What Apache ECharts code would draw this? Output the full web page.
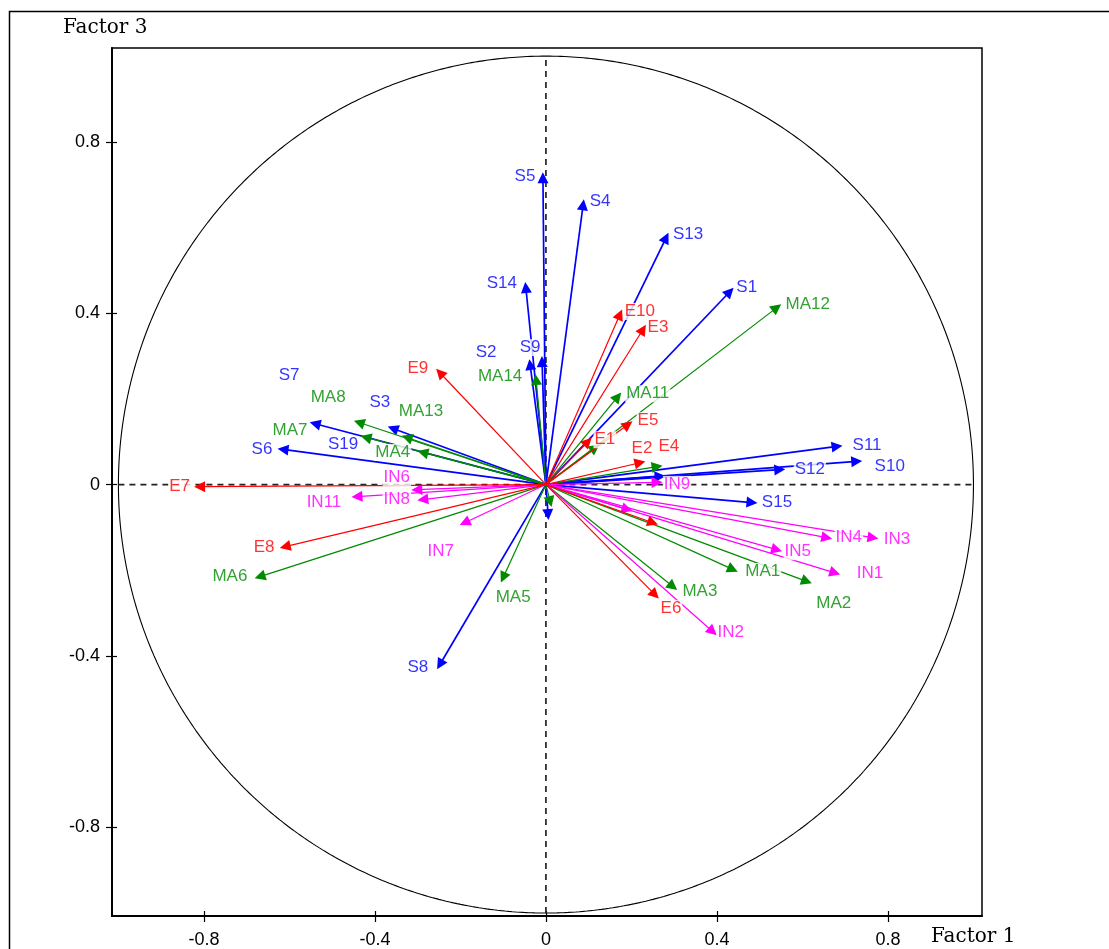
<!DOCTYPE html>
<html>
<head>
<meta charset="utf-8">
<script src="https://cdn.jsdelivr.net/npm/echarts@6/dist/echarts.min.js"></script>
<style>
html,body{margin:0;padding:0;background:#fff;}
#main{width:1109px;height:949px;}
</style>
</head>
<body>
<div id="main"></div>
<script>
// ---- data ----
const tickValues = [-0.8, -0.4, 0, 0.4, 0.8];
const xTitle = 'Factor 1';
const yTitle = 'Factor 3';

const sNames = ['S1','S2','S3','S4','S5','S6','S7','S8','S9','S10','S11','S12','S13','S14','S15','S19',''];
const sX = [0.43,-0.037,-0.358,0.087,-0.007,-0.615,-0.54,-0.248,-0.009,0.727,0.681,0.547,0.281,-0.047,0.482,0.005,0.267];
const sY = [0.45,0.28,0.131,0.653,0.716,0.082,0.142,-0.42,0.287,0.054,0.089,0.035,0.576,0.46,-0.042,-0.07,0.019];

const eNames = ['E1','E2','E3','E4','E5','E6','E7','E8','E9','E10'];
const eX = [0.098,0.22,0.227,0.25,0.192,0.255,-0.81,-0.61,-0.248,0.173];
const eY = [0.1,0.051,0.362,-0.089,0.14,-0.257,-0.005,-0.145,0.261,0.397];

const maNames = ['MA1','MA2','MA3','MA4','MA5','MA6','MA7','MA8','MA11','MA12','MA13','MA14','','',''];
const maX = [0.437,0.61,0.297,-0.288,-0.1,-0.669,-0.421,-0.437,0.168,0.54,-0.325,-0.023,0.115,0.26,0.01];
const maY = [-0.198,-0.226,-0.238,0.075,-0.217,-0.215,0.11,0.145,0.205,0.413,0.11,0.245,0.086,0.042,-0.04];

const inNames = ['IN1','IN2','IN3','IN4','IN5','IN6','IN7','IN8','IN9','IN11',''];
const inX = [0.676,0.39,0.765,0.657,0.54,-0.302,-0.19,-0.288,0.26,-0.442,0.19];
const inY = [-0.206,-0.343,-0.124,-0.124,-0.152,-0.012,-0.089,-0.035,0.005,-0.028,-0.058];

// ---- label placement (pixel offsets from arrow tip) ----
const sLabelOffset = [[17,-4],[-44,-12],[-13,-26],[17,-3],[-18,-2],[-21,0],[-26,-48],[-22,3],[-12,-14],[33,5],[30,-1],[30,0],[22,-3],[-24,-4],[25,0],[-205,-70],[0,0]];
const eLabelOffset = [[17,-2],[2,-14],[15,-2],[16,-76],[20,-4],[16,14],[-20,0],[-21,1],[-22,-4],[20,-3]];
const maLabelOffset = [[30,2],[27,22],[27,5],[-30,0],[10,20],[-30,0],[-76,-7],[-31,-25],[30,-3],[31,-3],[14,-26],[-36,-3],[0,0],[0,0],[0,0]];
const inLabelOffset = [[35,0],[18,1],[24,2],[22,0],[21,2],[-20,-12],[-24,29],[-26,0],[20,2],[-33,6],[0,0]];

// ---- styles ----
const groups = [
  {names:sNames, xs:sX, ys:sY, off:sLabelOffset, color:'#0000ff', width:1.7},
  {names:maNames, xs:maX, ys:maY, off:maLabelOffset, color:'#008a00', width:1.2},
  {names:inNames, xs:inX, ys:inY, off:inLabelOffset, color:'#ff00ff', width:1.2},
  {names:eNames, xs:eX, ys:eY, off:eLabelOffset, color:'#ff0000', width:1.2}
];

const chart = echarts.init(document.getElementById('main'));

// unit circle (correlation circle, radius 1)
const circle = [];
for (let i = 0; i <= 720; i++) {
  const a = i / 720 * 2 * Math.PI;
  circle.push([Math.cos(a), Math.sin(a)]);
}

const series = [
  {type:'line', data:circle, showSymbol:false, silent:true, lineStyle:{color:'#000', width:1.1}, z:1},
  {type:'line', data:[[-1,0],[1,0]], showSymbol:false, silent:true, lineStyle:{color:'#222', width:1.7, type:[6,5]}, z:1},
  {type:'line', data:[[0,-1],[0,1]], showSymbol:false, silent:true, lineStyle:{color:'#222', width:1.7, type:[6,5]}, z:1}
];

groups.forEach(g => {
  series.push({
    type:'lines',
    coordinateSystem:'cartesian2d',
    symbol:['none','triangle'],
    symbolSize:[0,11],
    silent:true,
    z:3,
    lineStyle:{color:g.color, width:g.width, opacity:1},
    data:g.names.map((n,i) => ({coords:[[0,0],[g.xs[i], g.ys[i]]]}))
  });
  series.push({
    type:'scatter',
    symbolSize:0,
    silent:true,
    z:4,
    label:{show:true, position:'inside', align:'center', verticalAlign:'middle',
      color:g.color, fontFamily:'Liberation Sans, Arial, sans-serif', fontSize:17,
      backgroundColor:'#fff', padding:[0,1],
      formatter:p => p.name},
    data:g.names.map((n,i) => ({name:n, value:[g.xs[i], g.ys[i]], label:{offset:g.off[i]}})).filter(d => d.name !== '')
  });
});

const fmt = v => String(Math.round(v*10)/10);

const option = {
  backgroundColor:'#fff',
  animation:false,
  grid:{left:112, right:127, top:48, bottom:33, show:true, borderColor:'#000', borderWidth:1.5, containLabel:false},
  xAxis:[
    {type:'value', min:-1.015, max:1.02, position:'bottom',
      axisLine:{show:true, onZero:false, lineStyle:{color:'#000', width:2}},
      axisTick:{show:true, length:6, customValues:tickValues, lineStyle:{color:'#000', width:1.2}},
      axisLabel:{show:true, customValues:tickValues, formatter:fmt, margin:15, color:'#000', fontFamily:'Liberation Sans, Arial, sans-serif', fontSize:18},
      splitLine:{show:false}},
    {type:'value', min:-1.015, max:1.02, position:'bottom',
      axisLine:{show:false, onZero:false},
      axisTick:{show:true, inside:true, length:5, customValues:tickValues, lineStyle:{color:'#000', width:1.2}},
      axisLabel:{show:false}, splitLine:{show:false}}
  ],
  yAxis:[
    {type:'value', min:-1.007, max:1.019, position:'left',
      axisLine:{show:true, onZero:false, lineStyle:{color:'#000', width:2}},
      axisTick:{show:true, length:6, customValues:tickValues, lineStyle:{color:'#000', width:1.2}},
      axisLabel:{show:true, customValues:tickValues, formatter:fmt, margin:12, color:'#000', fontFamily:'Liberation Sans, Arial, sans-serif', fontSize:18},
      splitLine:{show:false}},
    {type:'value', min:-1.007, max:1.019, position:'left',
      axisLine:{show:false, onZero:false},
      axisTick:{show:true, inside:true, length:5, customValues:tickValues, lineStyle:{color:'#000', width:1.2}},
      axisLabel:{show:false}, splitLine:{show:false}}
  ],
  graphic:[
    {type:'rect', shape:{x:9.5, y:11.5, width:1200, height:1000}, style:{fill:null, stroke:'#000', lineWidth:1.5}, silent:true},
    {type:'text', left:63, top:18, style:{text:yTitle, font:'20px "DejaVu Serif", "Liberation Serif", serif', fill:'#000'}},
    {type:'text', left:931, top:927, style:{text:xTitle, font:'20px "DejaVu Serif", "Liberation Serif", serif', fill:'#000'}}
  ],
  series:series
};
chart.setOption(option);
</script>
</body>
</html>
